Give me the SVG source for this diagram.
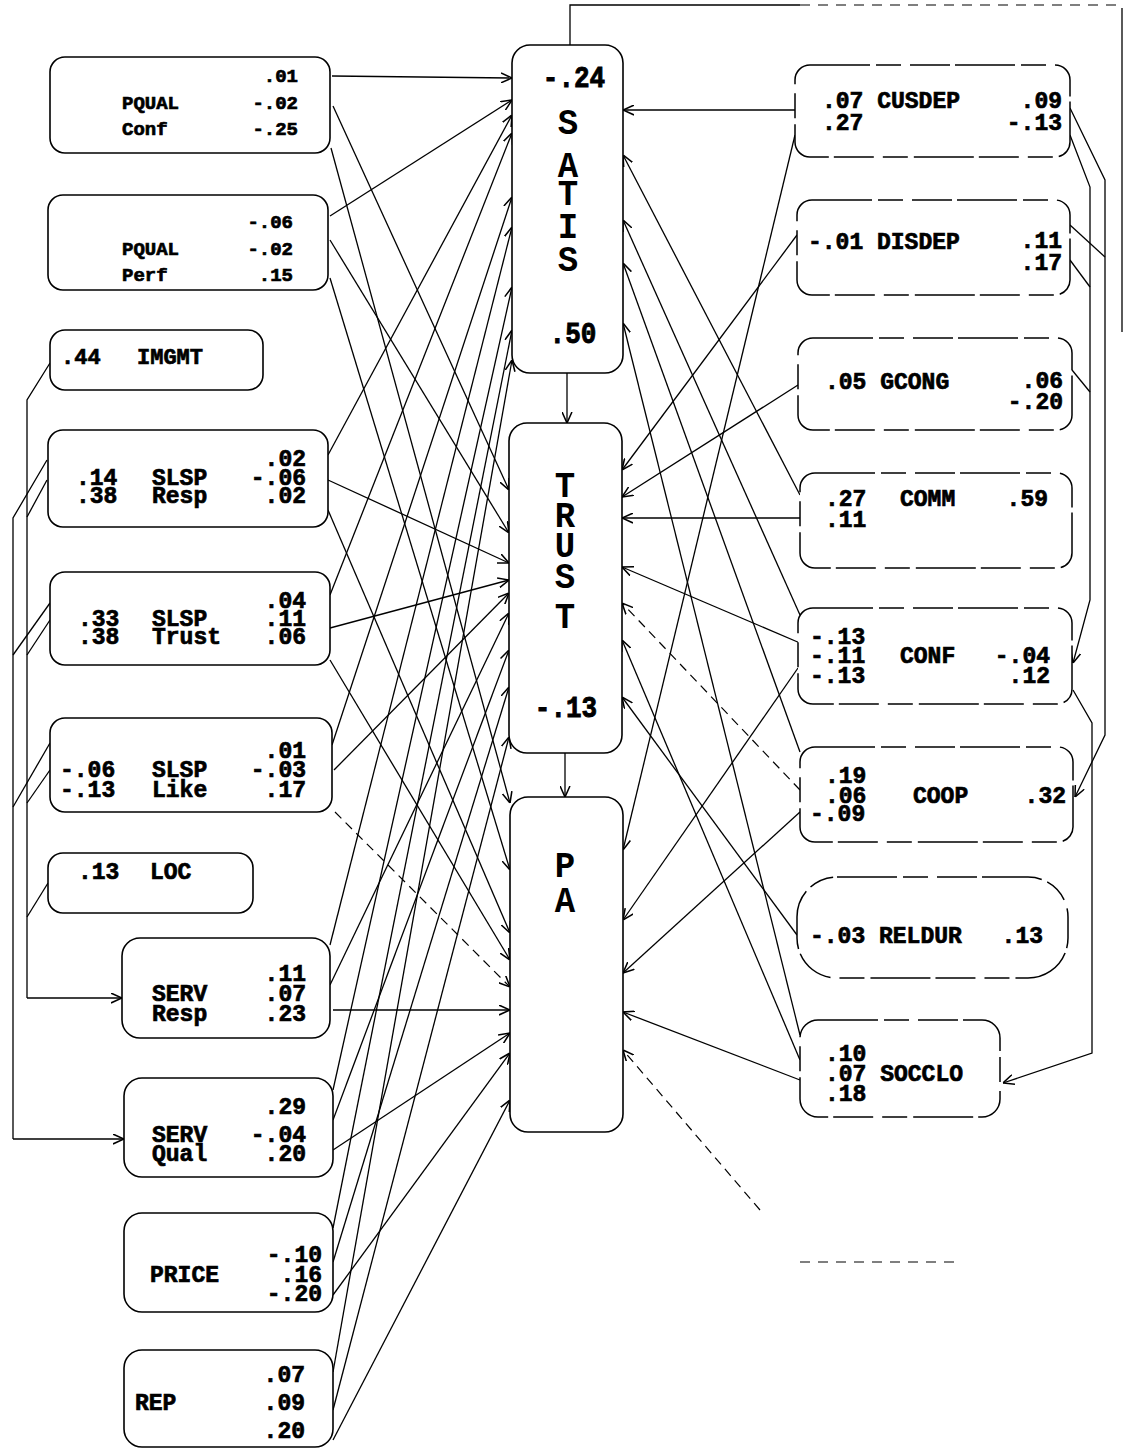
<svg xmlns="http://www.w3.org/2000/svg" width="1127" height="1450" viewBox="0 0 1127 1450">
<style>
.bx{fill:#fff;stroke:#000;stroke-width:1.6}
.rb{fill:#fff;stroke:#000;stroke-width:1.5;stroke-dasharray:60 6 25 9 40 5}
.t{font-family:"Liberation Mono","Courier New",monospace;font-weight:bold;fill:#000;stroke:#000;stroke-width:0.7}
.s18{font-size:19px}.s22{font-size:22px}.s23{font-size:23px}
.e{text-anchor:end}
.c{font-family:"Liberation Mono","Courier New",monospace;font-weight:bold;fill:#000;text-anchor:middle}
.big{font-size:34px}
.cf{font-size:26px;stroke:#000;stroke-width:0.8}
.ln{fill:none;stroke:#000;stroke-width:1.3;marker-end:url(#ah)}
.pl{fill:none;stroke:#000;stroke-width:1.3}
.dl{fill:none;stroke:#000;stroke-width:1.2;stroke-dasharray:9 6;marker-end:url(#ah)}
.dp{fill:none;stroke:#000;stroke-width:1.2;stroke-dasharray:10 8}
</style>
<defs>
<marker id="ah" viewBox="0 0 10 10" refX="10" refY="5" markerWidth="11" markerHeight="11" markerUnits="userSpaceOnUse" orient="auto">
<path d="M0,0.5 L10,5 L0,9.5" fill="none" stroke="#000" stroke-width="1.4"/>
</marker>
</defs>
<rect width="1127" height="1450" fill="#fff"/>

<g id="connectors">
<path class="ln" d="M332,76 L512,78"/>
<path class="ln" d="M333,106 L509,490"/>
<path class="ln" d="M331,148 L510,803"/>
<path class="ln" d="M330,216 L512,100"/>
<path class="ln" d="M330,240 L509,533"/>
<path class="ln" d="M330,278 L510,870"/>
<path class="ln" d="M328,455 L512,115"/>
<path class="ln" d="M328,480 L509,563"/>
<path class="ln" d="M328,510 L510,933"/>
<path class="ln" d="M330,595 L512,133"/>
<path class="ln" d="M330,628 L509,580"/>
<path class="ln" d="M330,660 L510,960"/>
<path class="ln" d="M332,745 L512,197"/>
<path class="ln" d="M334,770 L509,593"/>
<path class="dl" d="M335,812 L510,987"/>
<path class="ln" d="M330,945 L512,227"/>
<path class="ln" d="M330,985 L509,613"/>
<path class="ln" d="M333,1010 L510,1010"/>
<path class="ln" d="M333,1090 L512,287"/>
<path class="ln" d="M333,1120 L509,650"/>
<path class="ln" d="M333,1150 L510,1033"/>
<path class="ln" d="M333,1228 L512,330"/>
<path class="ln" d="M333,1262 L509,687"/>
<path class="ln" d="M333,1295 L510,1053"/>
<path class="ln" d="M333,1372 L512,360"/>
<path class="ln" d="M333,1410 L509,737"/>
<path class="ln" d="M333,1440 L510,1100"/>
<path class="ln" d="M567,373 L567,423"/>
<path class="ln" d="M565,753 L565,797"/>
<path class="pl" d="M50,363 L27,400 L27,998"/>
<path class="ln" d="M27,998 L122,998"/>
<path class="pl" d="M47,460 L13,518 L13,1139"/>
<path class="ln" d="M13,1139 L124,1139"/>
<path class="pl" d="M47,480 L27,517"/>
<path class="pl" d="M50,603 L13,655"/>
<path class="pl" d="M50,620 L27,655"/>
<path class="pl" d="M50,743 L13,807"/>
<path class="pl" d="M50,770 L27,803"/>
<path class="pl" d="M48,883 L27,917"/>
<path class="ln" d="M795,110 L623,110"/>
<path class="ln" d="M795,135 L623,850"/>
<path class="ln" d="M797,235 L622,470"/>
<path class="ln" d="M798,385 L622,497"/>
<path class="ln" d="M800,495 L623,155"/>
<path class="ln" d="M800,518 L622,518"/>
<path class="ln" d="M800,615 L623,220"/>
<path class="ln" d="M800,643 L622,567"/>
<path class="ln" d="M798,668 L623,920"/>
<path class="ln" d="M800,752 L623,263"/>
<path class="dl" d="M800,790 L622,603"/>
<path class="ln" d="M800,812 L623,973"/>
<path class="ln" d="M797,935 L622,697"/>
<path class="ln" d="M800,1035 L623,323"/>
<path class="ln" d="M800,1060 L622,640"/>
<path class="ln" d="M800,1080 L623,1012"/>
<path class="dl" d="M760,1210 L623,1050"/>
<path class="dp" d="M800,1262 L955,1262"/>
<path class="pl" d="M570,45 L570,5 L800,5"/>
<path class="dp" d="M800,5 L1122,5"/>
<path class="pl" d="M1122,8 L1122,332"/>
<path class="ln" d="M1070,108 L1105,180 L1105,735 L1075,797"/>
<path class="ln" d="M1070,135 L1090,187 L1090,600 L1073,663"/>
<path class="pl" d="M1070,225 L1105,257"/>
<path class="pl" d="M1070,260 L1090,287"/>
<path class="pl" d="M1072,370 L1090,392"/>
<path class="ln" d="M1073,690 L1092,723 L1092,1053 L1003,1083"/>
</g>

<g id="n-pqual-conf">
<rect class="bx" x="50" y="57" width="280" height="96" rx="15"/>
<text class="t s18 e" x="298" y="82">.01</text>
<text class="t s18" x="122" y="109">PQUAL</text><text class="t s18 e" x="298" y="109">-.02</text>
<text class="t s18" x="122" y="135">Conf</text><text class="t s18 e" x="298" y="135">-.25</text>
</g>
<g id="n-pqual-perf">
<rect class="bx" x="48" y="195" width="280" height="95" rx="15"/>
<text class="t s18 e" x="293" y="228">-.06</text>
<text class="t s18" x="122" y="255">PQUAL</text><text class="t s18 e" x="293" y="255">-.02</text>
<text class="t s18" x="122" y="281">Perf</text><text class="t s18 e" x="293" y="281">.15</text>
</g>
<g id="n-imgmt">
<rect class="bx" x="50" y="330" width="213" height="60" rx="15"/>
<text class="t s22" x="61" y="364">.44</text><text class="t s22" x="137" y="364">IMGMT</text>
</g>
<g id="n-slsp-resp">
<rect class="bx" x="48" y="430" width="280" height="97" rx="15"/>
<text class="t s23 e" x="306" y="466">.02</text>
<text class="t s23" x="76" y="485">.14</text><text class="t s23" x="152" y="485">SLSP</text><text class="t s23 e" x="306" y="485">-.06</text>
<text class="t s23" x="76" y="503">.38</text><text class="t s23" x="152" y="503">Resp</text><text class="t s23 e" x="306" y="503">.02</text>
</g>
<g id="n-slsp-trust">
<rect class="bx" x="50" y="572" width="280" height="93" rx="15"/>
<text class="t s23 e" x="306" y="608">.04</text>
<text class="t s23" x="78" y="626">.33</text><text class="t s23" x="152" y="626">SLSP</text><text class="t s23 e" x="306" y="626">.11</text>
<text class="t s23" x="78" y="644">.38</text><text class="t s23" x="152" y="644">Trust</text><text class="t s23 e" x="306" y="644">.06</text>
</g>
<g id="n-slsp-like">
<rect class="bx" x="50" y="718" width="282" height="94" rx="15"/>
<text class="t s23 e" x="306" y="758">.01</text>
<text class="t s23" x="60" y="777">-.06</text><text class="t s23" x="152" y="777">SLSP</text><text class="t s23 e" x="306" y="777">-.03</text>
<text class="t s23" x="60" y="797">-.13</text><text class="t s23" x="152" y="797">Like</text><text class="t s23 e" x="306" y="797">.17</text>
</g>
<g id="n-loc">
<rect class="bx" x="48" y="853" width="205" height="60" rx="15"/>
<text class="t s23" x="78" y="879">.13</text><text class="t s23" x="150" y="879">LOC</text>
</g>
<g id="n-serv-resp">
<rect class="bx" x="122" y="938" width="208" height="100" rx="18"/>
<text class="t s23 e" x="306" y="981">.11</text>
<text class="t s23" x="152" y="1001">SERV</text><text class="t s23 e" x="306" y="1001">.07</text>
<text class="t s23" x="152" y="1021">Resp</text><text class="t s23 e" x="306" y="1021">.23</text>
</g>
<g id="n-serv-qual">
<rect class="bx" x="124" y="1078" width="209" height="99" rx="18"/>
<text class="t s23 e" x="306" y="1114">.29</text>
<text class="t s23" x="152" y="1142">SERV</text><text class="t s23 e" x="306" y="1142">-.04</text>
<text class="t s23" x="152" y="1161">Qual</text><text class="t s23 e" x="306" y="1161">.20</text>
</g>
<g id="n-price">
<rect class="bx" x="124" y="1213" width="209" height="99" rx="18"/>
<text class="t s23 e" x="322" y="1262">-.10</text>
<text class="t s23" x="150" y="1282">PRICE</text><text class="t s23 e" x="322" y="1282">.16</text>
<text class="t s23 e" x="322" y="1301">-.20</text>
</g>
<g id="n-rep">
<rect class="bx" x="124" y="1350" width="209" height="97" rx="18"/>
<text class="t s23 e" x="305" y="1382">.07</text>
<text class="t s23" x="135" y="1410">REP</text><text class="t s23 e" x="305" y="1410">.09</text>
<text class="t s23 e" x="305" y="1438">.20</text>
</g>

<g id="n-satis">
<rect class="bx" x="512" y="45" width="111" height="328" rx="18"/>
<text class="c cf" transform="translate(574,87) scale(1,1.15)">-.24</text>
<text class="c big" transform="translate(568,134) scale(1,1.08)">S</text>
<text class="c big" transform="translate(568,177) scale(1,1.08)">A</text>
<text class="c big" transform="translate(568,205) scale(1,1.08)">T</text>
<text class="c big" transform="translate(568,238) scale(1,1.08)">I</text>
<text class="c big" transform="translate(568,271) scale(1,1.08)">S</text>
<text class="c cf" transform="translate(573,343) scale(1,1.15)">.50</text>
</g>
<g id="n-trust">
<rect class="bx" x="509" y="423" width="113" height="330" rx="18"/>
<text class="c big" transform="translate(565,497) scale(1,1.08)">T</text>
<text class="c big" transform="translate(565,527) scale(1,1.08)">R</text>
<text class="c big" transform="translate(565,557) scale(1,1.08)">U</text>
<text class="c big" transform="translate(565,588) scale(1,1.08)">S</text>
<text class="c big" transform="translate(565,628) scale(1,1.08)">T</text>
<text class="c cf" transform="translate(566,717) scale(1,1.15)">-.13</text>
</g>
<g id="n-pa">
<rect class="bx" x="510" y="797" width="113" height="335" rx="18"/>
<text class="c big" transform="translate(565,877) scale(1,1.08)">P</text>
<text class="c big" transform="translate(565,912) scale(1,1.08)">A</text>
</g>

<g id="n-cusdep">
<rect class="rb" x="795" y="65" width="275" height="92" rx="15"/>
<text class="t s23" x="822" y="108">.07 CUSDEP</text><text class="t s23" x="822" y="130">.27</text>
<text class="t s23 e" x="1062" y="108">.09</text><text class="t s23 e" x="1062" y="130">-.13</text>
</g>
<g id="n-disdep">
<rect class="rb" x="797" y="200" width="273" height="95" rx="15"/>
<text class="t s23" x="808" y="249">-.01 DISDEP</text>
<text class="t s23 e" x="1062" y="248">.11</text><text class="t s23 e" x="1062" y="270">.17</text>
</g>
<g id="n-gcong">
<rect class="rb" x="798" y="338" width="274" height="92" rx="15"/>
<text class="t s23" x="825" y="389">.05 GCONG</text>
<text class="t s23 e" x="1063" y="388">.06</text><text class="t s23 e" x="1063" y="409">-.20</text>
</g>
<g id="n-comm">
<rect class="rb" x="800" y="473" width="272" height="95" rx="15"/>
<text class="t s23" x="825" y="506">.27</text><text class="t s23" x="900" y="506">COMM</text>
<text class="t s23 e" x="1048" y="506">.59</text>
<text class="t s23" x="825" y="527">.11</text>
</g>
<g id="n-conf">
<rect class="rb" x="798" y="608" width="274" height="96" rx="15"/>
<text class="t s23" x="810" y="644">-.13</text>
<text class="t s23" x="810" y="663">-.11</text><text class="t s23" x="900" y="663">CONF</text><text class="t s23 e" x="1050" y="663">-.04</text>
<text class="t s23" x="810" y="683">-.13</text><text class="t s23 e" x="1050" y="683">.12</text>
</g>
<g id="n-coop">
<rect class="rb" x="800" y="747" width="273" height="95" rx="15"/>
<text class="t s23" x="825" y="783">.19</text>
<text class="t s23" x="825" y="803">.06</text><text class="t s23" x="913" y="803">COOP</text><text class="t s23 e" x="1066" y="803">.32</text>
<text class="t s23" x="810" y="821">-.09</text>
</g>
<g id="n-reldur">
<rect class="rb" x="797" y="877" width="271" height="101" rx="40"/>
<text class="t s23" x="810" y="943">-.03 RELDUR</text>
<text class="t s23 e" x="1043" y="943">.13</text>
</g>
<g id="n-socclo">
<rect class="rb" x="800" y="1020" width="200" height="97" rx="18"/>
<text class="t s23" x="825" y="1061">.10</text>
<text class="t s23" x="825" y="1081">.07 SOCCLO</text>
<text class="t s23" x="825" y="1101">.18</text>
</g>
</svg>
